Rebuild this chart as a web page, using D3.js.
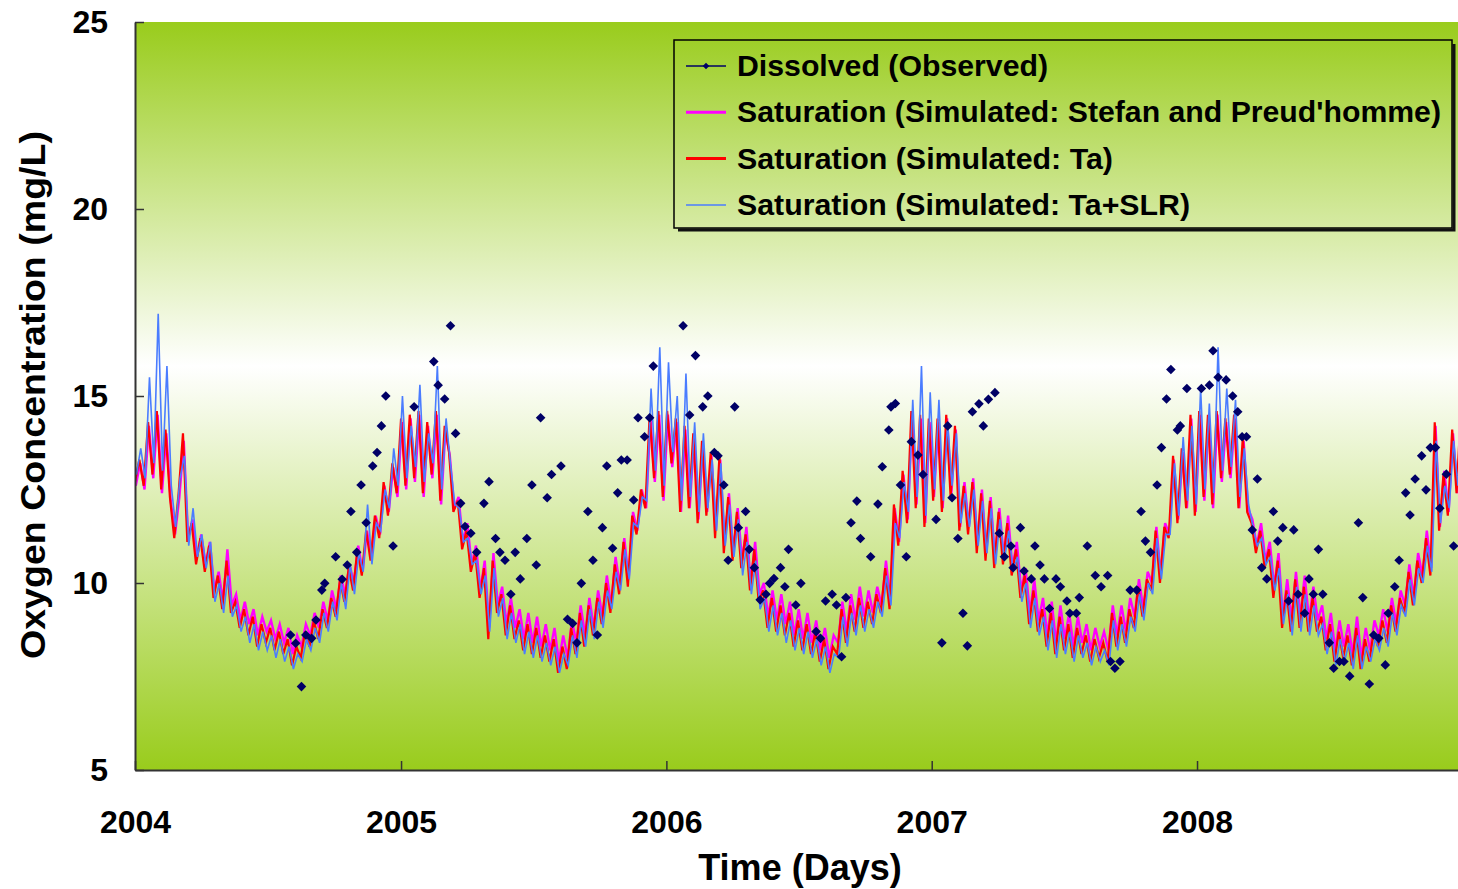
<!DOCTYPE html>
<html>
<head>
<meta charset="utf-8">
<script src="https://cdn.jsdelivr.net/npm/d3@7"></script>
<style>
body { margin: 0; background: #fff; }
text { font-family: "Liberation Sans", Arial, sans-serif; font-weight: bold; fill: #000; }
</style>
</head>
<body>
<svg id="chart" width="1458" height="889"></svg>
<script>
// series start and sampling step (one value every 6 days)
var start_day = new Date(Date.UTC(2004, 0, 1));
var step_days = 6;
var tick_years = [2004, 2005, 2006, 2007, 2008];
var y_ticks = [5, 10, 15, 20, 25];

// Saturation (Simulated: Stefan and Preud'homme)
var sat_stefan = [
  12.6,13.2,12.5,14.2,12.8,14.5,12.4,14.0,12.2,11.3,12.3,13.8,11.2,11.7,10.7,11.3,10.5,11.1,9.8,10.3,9.5,10.9,9.4,9.7,9.0,9.5,8.9,9.3,8.6,9.1,8.7,9.0,8.5,8.9,8.4,8.8,8.1,8.6,8.3,8.9,8.6,9.2,8.8,9.5,9.0,9.8,9.3,10.2,9.7,10.5,10.0,11.0,10.3,11.4,10.7,11.8,11.3,12.6,11.9,13.1,12.3,
  14.3,12.5,14.4,12.7,14.5,12.3,14.2,12.8,14.5,12.1,14.1,13.4,12.0,12.3,11.1,11.6,10.5,11.0,9.8,10.6,8.8,10.8,9.4,9.9,8.9,9.6,8.8,9.3,8.5,9.2,8.4,9.1,8.3,8.9,8.2,8.8,7.9,8.6,8.0,9.0,8.4,9.4,8.6,9.6,8.8,9.8,9.1,10.2,9.4,10.7,9.9,11.2,10.1,11.9,11.4,12.5,12.0,14.4,12.7,14.5,12.2,
  14.5,13.1,14.3,11.9,14.1,12.0,13.9,11.7,13.7,11.9,13.4,11.4,13.3,11.0,12.4,10.8,12.0,10.6,11.5,10.0,11.1,9.7,10.0,9.1,9.8,9.0,9.7,8.9,9.5,8.6,9.3,8.5,9.2,8.4,9.0,8.2,8.8,8.0,8.6,8.4,9.5,8.7,9.7,9.0,9.9,9.1,9.8,9.2,9.9,9.4,10.6,9.5,12.0,11.1,12.9,11.7,14.5,12.1,14.4,11.6,14.3,
  12.3,14.3,12.0,14.4,12.4,14.1,11.5,12.7,11.5,12.8,11.0,12.5,10.8,12.3,10.6,12.0,10.7,11.8,10.4,11.1,9.8,10.4,9.2,10.1,9.0,9.6,8.6,9.5,8.4,9.4,8.5,9.2,8.3,9.1,8.4,8.9,8.2,8.8,8.3,8.7,8.2,9.4,8.6,9.4,8.7,9.6,9.1,10.1,9.3,10.3,10.0,11.5,10.2,11.6,11.3,13.3,11.7,13.5,12.0,14.4,11.9,
  14.5,12.2,14.4,12.0,14.5,12.7,14.3,12.8,14.4,12.0,13.8,12.0,11.7,11.0,11.6,10.6,11.1,9.9,10.8,9.1,10.1,9.0,10.3,9.1,10.2,9.0,9.9,9.0,9.4,8.5,9.2,8.2,9.0,8.3,8.9,8.1,9.1,8.0,8.8,8.2,9.0,8.6,9.3,8.7,9.6,8.9,9.8,9.4,10.5,9.6,10.8,10.2,11.4,10.4,14.2,11.5,13.0,11.9,14.0,12.4,14.6
];

// Saturation (Simulated: Ta)
var sat_ta = [
  12.7,13.3,12.6,14.3,12.9,14.6,12.5,14.1,12.3,11.2,12.4,14.0,11.1,11.6,10.5,11.2,10.3,11.0,9.6,10.2,9.3,10.6,9.2,9.5,8.8,9.3,8.6,9.1,8.3,8.9,8.4,8.8,8.2,8.7,8.1,8.5,7.8,8.3,8.0,8.7,8.3,9.0,8.5,9.3,8.8,9.6,9.1,10.1,9.5,10.4,9.8,10.9,10.2,11.4,10.6,11.8,11.2,12.7,11.8,13.2,12.4,
  14.4,12.6,14.5,12.8,14.6,12.4,14.3,12.9,14.6,12.2,14.2,13.5,11.9,12.2,10.9,11.4,10.3,10.8,9.6,10.4,8.5,10.6,9.2,9.7,8.6,9.4,8.5,9.0,8.2,8.9,8.1,8.8,8.0,8.6,7.9,8.5,7.6,8.3,7.7,8.8,8.1,9.2,8.3,9.4,8.6,9.6,8.9,10.0,9.2,10.5,9.7,11.1,9.9,11.8,11.3,12.5,12.0,14.5,12.8,14.6,12.3,
  14.6,13.2,14.4,11.9,14.2,12.0,14.0,11.6,13.8,11.8,13.5,11.2,13.4,10.8,12.3,10.6,11.9,10.4,11.3,9.8,10.9,9.5,9.8,8.8,9.6,8.7,9.4,8.6,9.2,8.3,9.0,8.2,8.9,8.1,8.7,7.9,8.5,7.7,8.3,8.1,9.3,8.4,9.4,8.7,9.6,8.8,9.5,8.9,9.7,9.2,10.4,9.3,12.1,11.0,13.0,11.6,14.6,12.0,14.5,11.5,14.4,
  12.2,14.4,11.9,14.5,12.3,14.2,11.4,12.6,11.3,12.7,10.8,12.4,10.6,12.2,10.4,11.9,10.5,11.6,10.2,10.9,9.6,10.2,8.9,9.8,8.7,9.3,8.3,9.2,8.1,9.1,8.2,8.9,8.0,8.8,8.1,8.6,7.9,8.5,8.0,8.4,7.9,9.2,8.3,9.1,8.4,9.3,8.8,9.9,9.1,10.1,9.8,11.4,10.0,11.5,11.2,13.4,11.6,13.6,12.0,14.5,11.8,
  14.6,12.3,14.5,12.1,14.6,12.8,14.4,12.9,14.5,12.0,13.9,11.9,11.6,10.8,11.4,10.4,10.9,9.6,10.6,8.8,9.8,8.7,10.1,8.8,9.9,8.7,9.6,8.7,9.1,8.2,8.9,7.9,8.7,8.0,8.6,7.8,8.8,7.7,8.5,7.9,8.7,8.3,9.0,8.4,9.4,8.7,9.6,9.2,10.3,9.4,10.6,10.0,11.2,10.2,14.3,11.4,12.9,11.8,14.1,12.4,14.6
];

// Saturation (Simulated: Ta+SLR)
var sat_ta_slr = [
  12.9,13.6,12.8,15.5,13.2,17.2,13.0,15.8,12.6,11.5,12.8,13.4,11.0,12.0,10.7,11.3,10.4,11.1,9.5,10.0,9.2,10.2,9.1,9.4,8.7,9.1,8.4,8.9,8.2,8.7,8.2,8.6,8.0,8.5,7.9,8.3,7.7,8.1,7.9,8.5,8.2,8.8,8.4,9.2,8.7,9.5,9.0,10.0,9.3,10.5,9.7,10.8,10.3,12.1,10.5,11.6,11.4,12.5,12.0,13.6,12.6,
  15.0,12.8,14.2,13.1,15.3,12.7,14.0,13.2,15.8,12.5,14.4,13.2,12.1,12.0,11.1,11.2,10.5,10.6,9.7,10.2,8.7,10.4,9.1,9.6,8.5,9.2,8.4,8.9,8.1,8.7,8.0,8.6,7.9,8.4,7.8,8.3,7.6,8.1,7.8,8.6,8.0,9.0,8.3,9.3,8.5,9.5,8.8,9.8,9.3,10.3,9.8,10.9,10.1,11.6,11.5,12.3,12.2,15.2,13.0,16.3,12.6,
  15.9,13.5,15.0,12.2,15.6,12.3,14.3,11.9,14.0,12.0,13.3,11.4,13.2,11.0,12.1,10.7,11.7,10.2,11.1,9.7,10.6,9.3,9.6,8.7,9.4,8.6,9.2,8.4,9.0,8.2,8.8,8.1,8.7,8.0,8.5,7.8,8.3,7.6,8.1,8.0,9.1,8.3,9.2,8.6,9.4,8.7,9.3,8.8,9.5,9.1,10.2,9.4,11.6,11.2,12.7,11.9,14.9,12.3,15.8,11.8,15.1,
  12.5,14.9,12.2,14.3,12.6,14.0,11.6,12.4,11.5,12.5,11.0,12.2,10.8,12.0,10.5,11.7,10.6,11.4,10.3,10.7,9.5,10.0,8.8,9.6,8.6,9.1,8.2,9.0,8.0,8.9,8.1,8.7,7.9,8.6,8.0,8.4,7.8,8.3,7.9,8.2,7.8,9.0,8.2,8.9,8.3,9.1,8.7,9.7,9.0,10.0,9.7,11.2,10.1,11.3,11.3,13.2,11.8,13.9,12.2,14.2,12.1,
  15.2,12.5,14.8,12.4,16.3,13.0,15.2,13.1,14.9,12.3,13.6,12.1,11.5,11.0,11.2,10.5,10.7,9.8,10.4,8.9,9.7,8.6,9.9,8.7,9.7,8.6,9.4,8.6,8.9,8.1,8.7,7.8,8.5,7.9,8.4,7.7,8.6,7.7,8.3,7.9,8.5,8.2,8.8,8.3,9.2,8.6,9.4,9.1,10.1,9.4,10.4,10.0,11.0,10.3,13.8,11.6,12.6,12.0,13.8,12.6,14.7
];

// Dissolved (Observed): [day since 2004-01-01, mg/L]
var observed = [
  [214,8.61],[221,8.39],[229,7.23],[235,8.61],[243,8.52],[249,9.01],[257,9.81],[261,9.99],[276,10.70],[285,10.10],[292,10.48],[297,11.91],[305,10.82],[311,12.62],[318,11.61],[327,13.13],[333,13.49],[339,14.20],[345,15.00],[355,10.99],
  [384,14.71],[411,15.92],[417,15.29],[426,14.92],[434,16.88],[441,14.00],[448,12.13],[454,11.51],[462,11.33],[470,10.82],[480,12.13],[487,12.71],[496,11.19],[502,10.82],[509,10.61],[517,9.70],[523,10.82],[530,10.11],[539,11.19],[546,12.62],[552,10.48],[558,14.42],[567,12.28],[573,12.90],[586,13.13],[595,9.03],[602,8.92],[608,8.40],[614,9.99],[623,11.91],[630,10.61],[636,8.61],[643,11.48],[649,13.13],[657,10.93],[664,12.41],[669,13.29],[677,13.29],[686,12.22],[692,14.42],[701,13.91],[708,14.42],[713,15.80],
  [754,16.88],[763,14.49],[771,16.08],[781,14.71],[788,15.00],[797,13.49],[802,13.40],[810,12.62],[816,10.61],[825,14.71],[830,11.48],[840,11.91],[845,10.90],[852,10.41],[860,9.55],[868,9.70],[873,9.99],[879,10.12],[888,10.41],[894,9.90],[899,10.90],[909,9.41],[916,9.99],[937,8.70],[943,8.52],[950,9.52],[959,9.70],[965,9.41],[972,8.03],[978,9.61],[985,11.61],[993,12.19],[998,11.19],[1012,10.70],[1022,12.11],[1028,13.11],[1037,14.09],[1040,14.71],[1046,14.80],[1053,12.62],[1061,10.70],[1068,13.78],[1077,13.42],[1084,12.90],[1102,11.70],[1110,8.40],
  [1118,14.20],[1124,12.28],[1132,11.19],[1139,9.19],[1145,8.32],[1152,14.58],[1161,14.79],[1167,14.20],[1174,14.91],[1183,15.09],[1189,11.33],[1196,10.70],[1205,10.99],[1208,10.41],[1218,11.48],[1223,10.32],[1233,10.11],[1238,10.99],[1245,10.48],[1251,10.11],[1258,9.32],[1267,10.11],[1273,9.90],[1282,9.52],[1286,9.19],[1295,9.19],[1299,9.61],[1310,10.99],[1321,10.20],[1329,9.90],[1338,10.20],[1342,7.90],[1348,7.72],[1355,7.90],[1369,9.81],[1378,9.81],[1384,11.91],[1390,11.12],[1397,10.82],[1406,12.62],[1412,13.62],[1419,14.92],[1425,15.71],[1434,14.09],[1438,14.20],[1447,15.20],[1467,15.20],
  [1478,15.29],[1483,16.21],[1490,15.50],[1501,15.43],[1510,15.00],[1517,14.58],[1523,13.91],[1529,13.91],[1537,11.42],[1544,12.78],[1550,10.41],[1557,10.11],[1566,11.91],[1572,11.12],[1579,11.48],[1587,9.52],[1594,11.42],[1600,9.70],[1609,9.19],[1615,10.11],[1621,9.70],[1628,10.90],[1634,9.70],[1643,8.40],[1649,7.72],[1657,7.90],[1663,7.90],[1671,7.51],[1683,11.61],[1689,9.61],[1698,7.30],[1704,8.61],[1711,8.52],[1720,7.81],[1724,9.19],[1733,9.90],[1739,10.61],[1748,12.41],[1754,11.82],[1761,12.78],[1770,13.40],[1776,12.49],[1782,13.62],[1789,13.62],[1795,12.00],[1804,12.91],[1814,10.99]
];

var legend_labels = [
  "Dissolved (Observed)",
  "Saturation (Simulated: Stefan and Preud'homme)",
  "Saturation (Simulated: Ta)",
  "Saturation (Simulated: Ta+SLR)"
];

var svg = d3.select("#chart");
var plot_left = 135, plot_right = 1458, plot_top = 22, plot_bottom = 770;

var x = d3.scaleUtc()
    .domain([start_day, d3.utcDay.offset(start_day, 1820)])
    .range([plot_left, plot_right]);
var y = d3.scaleLinear().domain([5, 25]).range([plot_bottom, plot_top]);

// background gradient: green at the edges, white in the middle
var defs = svg.append("defs");
var grad = defs.append("linearGradient")
    .attr("id", "bg").attr("x1", 0).attr("y1", 0).attr("x2", 0).attr("y2", 1);
grad.append("stop").attr("offset", "0%").attr("stop-color", "#99cc1c");
grad.append("stop").attr("offset", "46%").attr("stop-color", "#ffffff");
grad.append("stop").attr("offset", "100%").attr("stop-color", "#99cc1c");

defs.append("clipPath").attr("id", "plot_clip")
    .append("rect").attr("x", plot_left).attr("y", plot_top - 2)
    .attr("width", plot_right - plot_left).attr("height", plot_bottom - plot_top + 2);

svg.append("rect")
    .attr("x", plot_left).attr("y", plot_top)
    .attr("width", plot_right - plot_left).attr("height", plot_bottom - plot_top)
    .attr("fill", "url(#bg)");

var plot = svg.append("g").attr("clip-path", "url(#plot_clip)");

function to_points(values) { // pair each sample with its date
    return values.map(function (v, i) {
        return [d3.utcDay.offset(start_day, i * step_days), v];
    });
}

var line = d3.line()
    .x(function (d) { return x(d[0]); })
    .y(function (d) { return y(d[1]); });

var series = [
    { values: sat_stefan, color: "#ff00ff", width: 2.4, shift: 0.8 },
    { values: sat_ta, color: "#ff0000", width: 2.2, shift: 0 },
    { values: sat_ta_slr, color: "#4a7cff", width: 1.6, shift: 1.4 }
];

series.forEach(function (s) {
    plot.append("path")
        .datum(to_points(s.values))
        .attr("fill", "none")
        .attr("stroke", s.color)
        .attr("stroke-width", s.width)
        .attr("transform", "translate(" + s.shift + ",0)")
        .attr("d", line);
});

var diamond = d3.symbol().type(d3.symbolSquare).size(46);

plot.selectAll(".obs")
    .data(observed)
    .enter()
    .append("path")
    .attr("class", "obs")
    .attr("d", diamond)
    .attr("fill", "#000066")
    .attr("transform", function (d) {
        return "translate(" + x(d3.utcDay.offset(start_day, d[0])) + "," + y(d[1]) + ")rotate(45)";
    });

// axes, ticks pointing inside the plot
var x_axis = d3.axisBottom(x)
    .tickValues(tick_years.map(function (yr) { return new Date(Date.UTC(yr, 0, 1)); }))
    .tickFormat(d3.utcFormat("%Y"))
    .tickSizeInner(-9).tickSizeOuter(0).tickPadding(40);
var gx = svg.append("g").attr("transform", "translate(0," + plot_bottom + ")").call(x_axis);

var y_axis = d3.axisLeft(y)
    .tickValues(y_ticks)
    .tickSizeInner(-9).tickSizeOuter(0).tickPadding(27);
var gy = svg.append("g").attr("transform", "translate(" + plot_left + ",0)").call(y_axis);

[gx, gy].forEach(function (g) {
    g.select(".domain").attr("stroke", "#333").attr("stroke-width", 2);
    g.selectAll(".tick line").attr("stroke", "#333").attr("stroke-width", 1.5);
    g.selectAll(".tick text")
        .attr("font-family", "Liberation Sans, Arial, sans-serif")
        .attr("font-weight", "bold")
        .attr("font-size", 32)
        .attr("fill", "#000");
});
gx.selectAll(".tick text").attr("dy", "0.71em").attr("y", 40);

svg.append("text")
    .attr("x", 800).attr("y", 880)
    .attr("text-anchor", "middle")
    .attr("font-size", 36)
    .text("Time (Days)");

svg.append("text")
    .attr("transform", "translate(45,395)rotate(-90)")
    .attr("text-anchor", "middle")
    .attr("font-size", 35)
    .attr("textLength", 528)
    .attr("lengthAdjust", "spacingAndGlyphs")
    .text("Oxygen Concentration (mg/L)");

// legend box with a drop shadow
var lg = { x: 674, y: 40, w: 778, h: 188 };
svg.append("path")
    .attr("d", "M" + (lg.x + 4) + "," + (lg.y + lg.h + 2) + "H" + (lg.x + lg.w + 2) + "V" + (lg.y + 4))
    .attr("fill", "none").attr("stroke", "#111").attr("stroke-width", 3);
svg.append("rect")
    .attr("x", lg.x).attr("y", lg.y).attr("width", lg.w).attr("height", lg.h)
    .attr("fill", "none").attr("stroke", "#000").attr("stroke-width", 1.5);

var legend_style = [
    { color: "#000066", width: 1.5, marker: true, length: 311 },
    { color: "#ff00ff", width: 3, marker: false, length: 704 },
    { color: "#ff0000", width: 3, marker: false, length: 376 },
    { color: "#4a7cff", width: 1.5, marker: false, length: 453 }
];

var rows = svg.selectAll(".legend_row")
    .data(legend_labels)
    .enter()
    .append("g")
    .attr("class", "legend_row")
    .attr("transform", function (d, i) { return "translate(0," + (66 + i * 46.3) + ")"; });

rows.append("line")
    .attr("x1", 686).attr("x2", 726).attr("y1", 0).attr("y2", 0)
    .attr("stroke", function (d, i) { return legend_style[i].color; })
    .attr("stroke-width", function (d, i) { return legend_style[i].width; });

rows.filter(function (d, i) { return legend_style[i].marker; })
    .append("path")
    .attr("d", d3.symbol().type(d3.symbolSquare).size(22))
    .attr("fill", "#000066")
    .attr("transform", "translate(706,0)rotate(45)");

rows.append("text")
    .attr("x", 737).attr("y", 10)
    .attr("font-size", 29)
    .attr("textLength", function (d, i) { return legend_style[i].length; })
    .attr("lengthAdjust", "spacingAndGlyphs")
    .text(function (d) { return d; });
</script>
</body>
</html>
